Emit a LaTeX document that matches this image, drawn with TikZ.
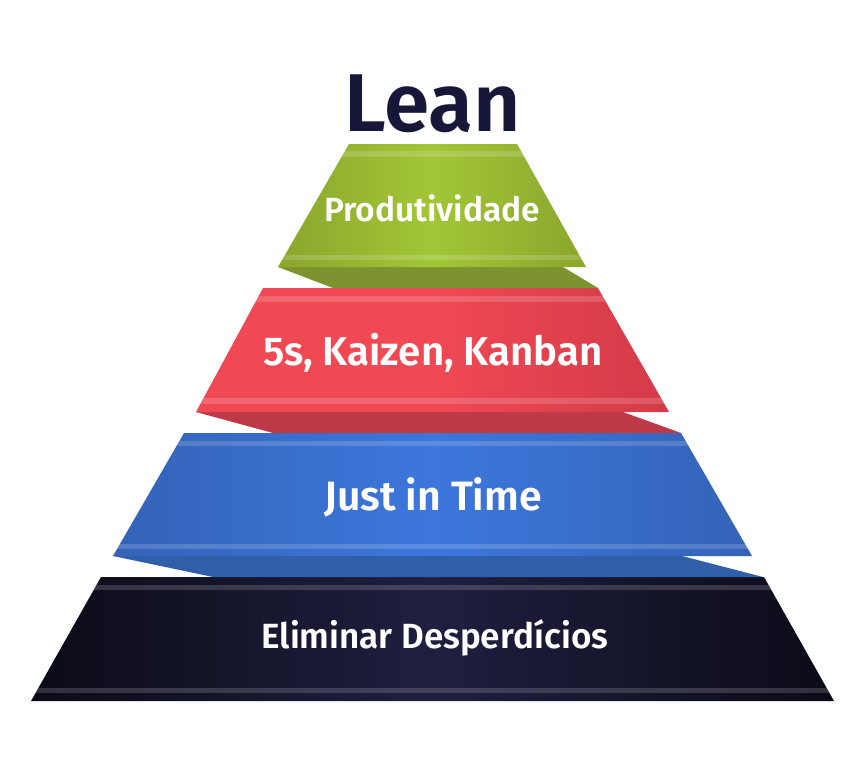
\documentclass[tikz,border=0pt]{standalone}
\usepackage{fontspec}
\setmainfont{Fira Sans}[BoldFont={Fira Sans SemiBold}]
\definecolor{gmid}{HTML}{A3C637}
\definecolor{gedge}{HTML}{8AA62C}
\definecolor{gdark}{HTML}{7C9330}
\definecolor{rmid}{HTML}{F04954}
\definecolor{redge}{HTML}{D33A48}
\definecolor{rdark}{HTML}{BE3A48}
\definecolor{bmid}{HTML}{3D77DC}
\definecolor{bedge}{HTML}{3463B8}
\definecolor{bdark}{HTML}{2F5FA8}
\definecolor{nmid}{HTML}{1F1F40}
\definecolor{nedge}{HTML}{0B0B17}
\definecolor{leancol}{HTML}{17173A}
\tikzset{
  lbl/.style={text=white, anchor=base, inner sep=0pt},
  stripe/.style={fill=white, opacity=0.16},
}
\begin{document}
\begin{tikzpicture}[x=1pt,y=-1pt]
\useasboundingbox (0,0) rectangle (866,768);
% --- Navy level
\shade[left color=nedge, right color=nedge, middle color=nmid] (101,577) -- (764,577) -- (834,701) -- (31,701) -- cycle;
\begin{scope}
\clip (101,577) -- (764,577) -- (834,701) -- (31,701) -- cycle;
\fill[stripe] (0,585) rectangle (866,590);
\fill[stripe] (0,688) rectangle (866,693);
\end{scope}
% --- Blue level
\fill[bdark] (113,556) -- (682,556) -- (763,577) -- (213,577) -- cycle;
\shade[left color=bedge, right color=bedge, middle color=bmid] (184,433) -- (681,433) -- (752,556) -- (113,556) -- cycle;
\begin{scope}
\clip (184,433) -- (681,433) -- (752,556) -- (113,556) -- cycle;
\fill[stripe] (0,441) rectangle (866,446);
\fill[stripe] (0,544) rectangle (866,549);
\end{scope}
% --- Red level
\fill[rdark] (196,412) -- (623,412) -- (681,433) -- (273,433) -- cycle;
\shade[left color=rmid, right color=redge, middle color=rmid] (263,288) -- (598,288) -- (669,412) -- (196,412) -- cycle;
\begin{scope}
\clip (263,288) -- (598,288) -- (669,412) -- (196,412) -- cycle;
\fill[stripe] (0,296) rectangle (866,302);
\fill[stripe] (0,398) rectangle (866,404);
\end{scope}
% --- Green level
\fill[gdark] (278,267) -- (563,267) -- (598,288) -- (333,288) -- cycle;
\shade[left color=gedge, right color=gedge, middle color=gmid] (349,144) -- (517,144) -- (586,267) -- (278,267) -- cycle;
\begin{scope}
\clip (349,144) -- (517,144) -- (586,267) -- (278,267) -- cycle;
\fill[stripe] (0,151) rectangle (866,157);
\fill[stripe] (0,255) rectangle (866,260);
\end{scope}
% --- Texts
\node[anchor=base, inner sep=0pt, text=leancol, font=\bfseries\fontsize{82}{82}\selectfont] (lean) at (433,131) {Lean};
\node[lbl, font=\bfseries\fontsize{33.5}{33.5}\selectfont] (prod) at (432,221) {Produtividade};
\node[lbl, font=\bfseries\fontsize{40.2}{40.2}\selectfont] (kaizen) at (433,365) {5s, Kaizen, Kanban};
\node[lbl, font=\bfseries\fontsize{41}{41}\selectfont] (jit) at (433,510) {Just in Time};
\node[lbl, font=\bfseries\fontsize{35}{35}\selectfont] (elim) at (435,648) {Eliminar Desperdícios};
\end{tikzpicture}
\end{document}
